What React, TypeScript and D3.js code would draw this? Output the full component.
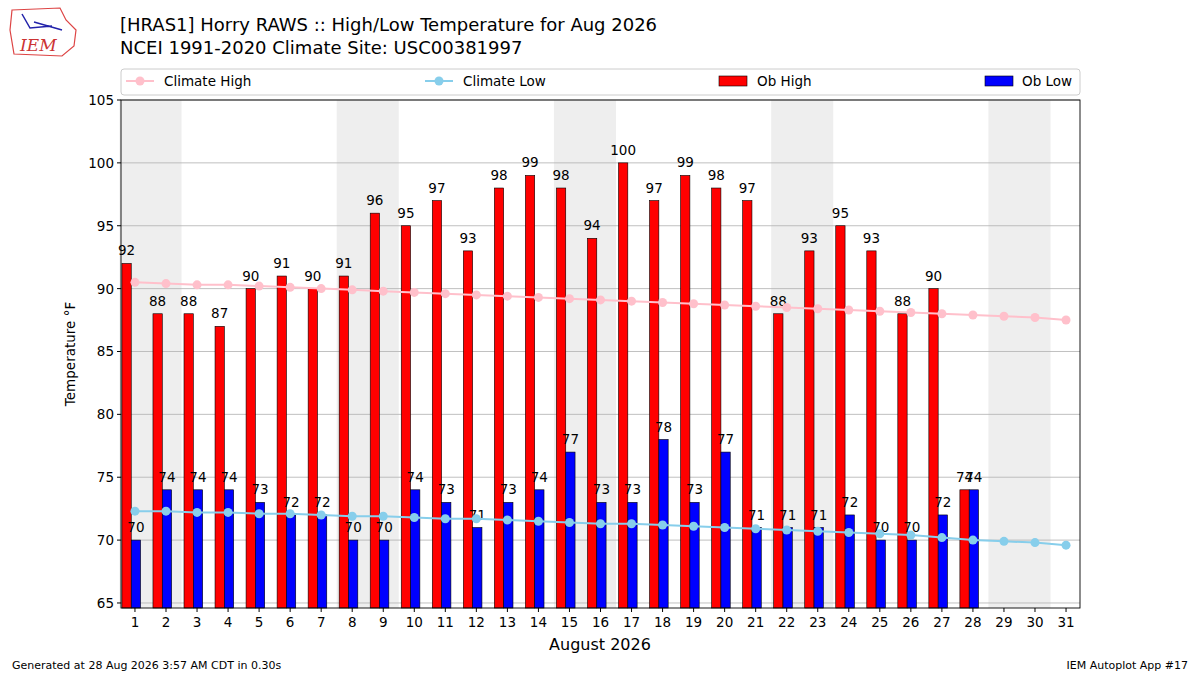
import React from "react";
import * as d3 from "d3";

const days = d3.range(1, 32);
const obHigh = [92, 88, 88, 87, 90, 91, 90, 91, 96, 95, 97, 93, 98, 99, 98, 94, 100, 97, 99, 98, 97, 88, 93, 95, 93, 88, 90, 74];
const obLow = [70, 74, 74, 74, 73, 72, 72, 70, 70, 74, 73, 71, 73, 74, 77, 73, 73, 78, 73, 77, 71, 71, 71, 72, 70, 70, 72, 74];
const climHigh = [90.5, 90.4, 90.3, 90.3, 90.2, 90.1, 90.0, 89.9, 89.8, 89.7, 89.6, 89.5, 89.4, 89.3, 89.2, 89.1, 89.0, 88.9, 88.8, 88.7, 88.6, 88.5, 88.4, 88.3, 88.2, 88.1, 88.0, 87.9, 87.8, 87.7, 87.5];
const climLow = [72.3, 72.3, 72.2, 72.2, 72.1, 72.1, 72.0, 71.9, 71.9, 71.8, 71.7, 71.7, 71.6, 71.5, 71.4, 71.3, 71.3, 71.2, 71.1, 71.0, 70.9, 70.8, 70.7, 70.6, 70.5, 70.4, 70.2, 70.0, 69.9, 69.8, 69.6];
const weekendStarts = [1, 8, 15, 22, 29];
const yTicks = [65, 70, 75, 80, 85, 90, 95, 100, 105];

const L = 121, R = 1080, T = 100, B = 608;
const font = "DejaVu Sans, sans-serif";

export default function App() {
  const x = d3.scaleLinear().domain([0.55, 31.45]).range([L, R]);
  const y = d3.scaleLinear().domain([64.6, 105]).range([B, T]);
  const bw = x(0.3) - x(0);
  const line = d3.line<number>().x((_, i) => x(days[i])).y((v) => y(v));
  return (
    <svg width={1200} height={675} style={{ position: "absolute", left: 0, top: 0, background: "#fff" }} fontFamily={font}>
      {/* logo */}
      <g>
        <path d="M12,10 L60,8 L66,20 L76,30 L74,46 L62,56 L14,54 L10,30 Z" fill="#fff" stroke="#d44" strokeWidth={1.2} />
        <text x={20} y={51} fill="#c33" fontSize={17} fontStyle="italic" fontFamily="DejaVu Serif, serif">IEM</text>
        <path d="M22,14 L30,28 L52,26 M34,22 L62,30" stroke="#22a" strokeWidth={1.5} fill="none" />
      </g>
      <text x={120} y={31} fontSize={18}>[HRAS1] Horry RAWS :: High/Low Temperature for Aug 2026</text>
      <text x={120} y={54} fontSize={18}>NCEI 1991-2020 Climate Site: USC00381997</text>
      {/* legend */}
      <rect x={121} y={69} width={959} height={26} rx={3} fill="#fff" stroke="#ccc" />
      <line x1={126} x2={154} y1={81} y2={81} stroke="pink" strokeWidth={2} />
      <circle cx={140} cy={81} r={4.5} fill="pink" />
      <text x={164} y={86} fontSize={13.5}>Climate High</text>
      <line x1={425} x2={453} y1={81} y2={81} stroke="skyblue" strokeWidth={2} />
      <circle cx={439} cy={81} r={4.5} fill="skyblue" />
      <text x={463} y={86} fontSize={13.5}>Climate Low</text>
      <rect x={719} y={76} width={28} height={10} fill="red" stroke="#000" strokeWidth={0.6} />
      <text x={757} y={86} fontSize={13.5}>Ob High</text>
      <rect x={985} y={76} width={28} height={10} fill="blue" stroke="#000" strokeWidth={0.6} />
      <text x={1022} y={86} fontSize={13.5}>Ob Low</text>
      {/* plot */}
      {weekendStarts.map((d) => (
        <rect key={d} x={x(d - 0.5)} y={T} width={x(2) - x(0)} height={B - T} fill="#eee" />
      ))}
      {yTicks.map((t) => (
        <g key={t}>
          <line x1={L} x2={R} y1={y(t)} y2={y(t)} stroke="#b0b0b0" strokeWidth={0.8} />
          <line x1={L - 4} x2={L} y1={y(t)} y2={y(t)} stroke="#000" />
          <text x={L - 7} y={y(t) + 5} fontSize={13.5} textAnchor="end">{t}</text>
        </g>
      ))}
      {obHigh.map((v, i) => (
        <g key={"h" + i}>
          <rect x={x(days[i] - 0.42)} y={y(v)} width={bw} height={B - y(v)} fill="red" stroke="#000" strokeWidth={0.6} />
          <text x={x(days[i] - 0.27)} y={y(v) - 8} fontSize={13.5} textAnchor="middle">{v}</text>
        </g>
      ))}
      {obLow.map((v, i) => (
        <g key={"l" + i}>
          <rect x={x(days[i] - 0.12)} y={y(v)} width={bw} height={B - y(v)} fill="blue" stroke="#000" strokeWidth={0.6} />
          <text x={x(days[i] + 0.03)} y={y(v) - 8} fontSize={13.5} textAnchor="middle">{v}</text>
        </g>
      ))}
      <path d={line(climHigh) ?? ""} fill="none" stroke="pink" strokeWidth={2} />
      {climHigh.map((v, i) => <circle key={"ch" + i} cx={x(days[i])} cy={y(v)} r={4.5} fill="pink" />)}
      <path d={line(climLow) ?? ""} fill="none" stroke="skyblue" strokeWidth={2} />
      {climLow.map((v, i) => <circle key={"cl" + i} cx={x(days[i])} cy={y(v)} r={4.5} fill="skyblue" />)}
      <rect x={L} y={T} width={R - L} height={B - T} fill="none" stroke="#000" strokeWidth={0.9} />
      {days.map((d) => (
        <g key={"x" + d}>
          <line x1={x(d)} x2={x(d)} y1={B} y2={B + 4} stroke="#000" />
          <text x={x(d)} y={B + 19} fontSize={13.5} textAnchor="middle">{d}</text>
        </g>
      ))}
      <text x={600} y={650} fontSize={16} textAnchor="middle">August 2026</text>
      <text transform={`translate(75,${(T + B) / 2}) rotate(-90)`} fontSize={13.5} textAnchor="middle">Temperature °F</text>
      <text x={12} y={669} fontSize={11}>Generated at 28 Aug 2026 3:57 AM CDT in 0.30s</text>
      <text x={1188} y={669} fontSize={11} textAnchor="end">IEM Autoplot App #17</text>
    </svg>
  );
}
